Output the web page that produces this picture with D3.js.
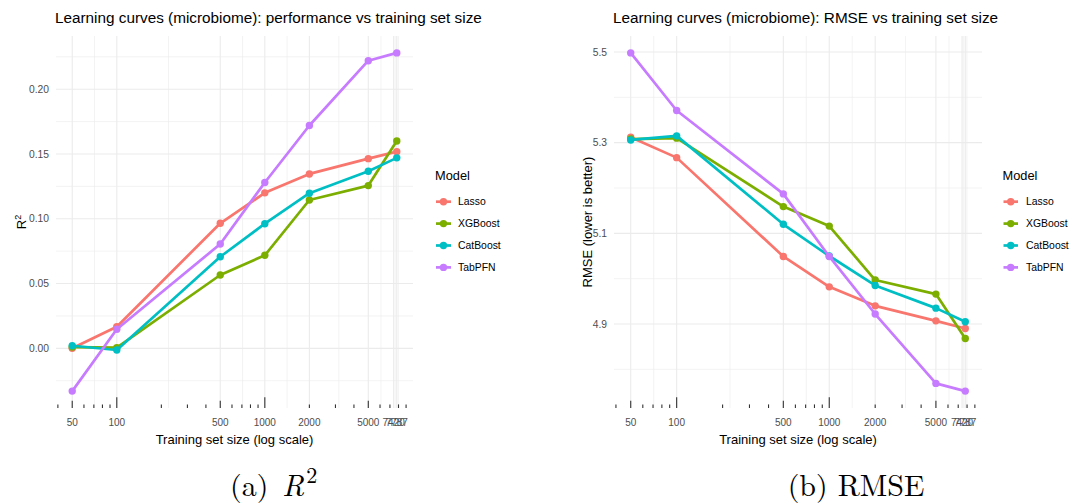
<!DOCTYPE html>
<html>
<head>
<meta charset="utf-8">
<script src="https://cdn.jsdelivr.net/npm/d3@7"></script>
<style>
  html, body { margin: 0; padding: 0; background: #ffffff; }
  svg { display: block; }
</style>
</head>
<body>
<svg id="chart" width="1076" height="504"></svg>
<script>
// ---------------- data ----------------
const models = ["Lasso", "XGBoost", "CatBoost", "TabPFN"];
const modelColors = ["#F8766D", "#7CAE00", "#00BFC4", "#C77CFF"];
const trainSizes = [50, 100, 500, 1000, 2000, 5000, 7787];
const xBreaks = [50, 100, 500, 1000, 2000, 5000, 7420, 7787];
const xBreakLabels = ["50", "100", "500", "1000", "2000", "5000", "7420", "7787"];

const r2Lasso    = [0.000, 0.0167, 0.0965, 0.1200, 0.1346, 0.1464, 0.1518];
const r2XGBoost  = [0.001, 0.0005, 0.0566, 0.0718, 0.1145, 0.1256, 0.1600];
const r2CatBoost = [0.002, -0.0013, 0.0707, 0.0962, 0.1197, 0.1367, 0.1470];
const r2TabPFN   = [-0.033, 0.0147, 0.0805, 0.1280, 0.1720, 0.2220, 0.2280];
const r2Ticks = [0.00, 0.05, 0.10, 0.15, 0.20];
const r2TickLabels = ["0.00", "0.05", "0.10", "0.15", "0.20"];

const rmseLasso    = [5.312, 5.267, 5.049, 4.982, 4.940, 4.907, 4.890];
const rmseXGBoost  = [5.308, 5.310, 5.159, 5.116, 4.997, 4.966, 4.868];
const rmseCatBoost = [5.306, 5.315, 5.120, 5.050, 4.985, 4.935, 4.905];
const rmseTabPFN   = [5.498, 5.371, 5.187, 5.049, 4.922, 4.769, 4.752];
const rmseTicks = [4.9, 5.1, 5.3, 5.5];
const rmseTickLabels = ["4.9", "5.1", "5.3", "5.5"];

const titleR2 = "Learning curves (microbiome): performance vs training set size";
const titleRMSE = "Learning curves (microbiome): RMSE vs training set size";
const xTitle = "Training set size (log scale)";
const yTitleRMSE = "RMSE (lower is better)";
const legendTitle = "Model";

// ---------------- drawing ----------------
const svg = d3.select("#chart");
const SANS = "'Liberation Sans', Arial, Helvetica, sans-serif";
const GRID = "#EBEBEB";

function expandLog(vals) {
  const l0 = Math.log10(d3.min(vals)), l1 = Math.log10(d3.max(vals));
  const p = 0.05 * (l1 - l0);
  return [Math.pow(10, l0 - p), Math.pow(10, l1 + p)];
}
function expandLin(vals) {
  const a = d3.min(vals), b = d3.max(vals);
  const p = 0.05 * (b - a);
  return [a - p, b + p];
}

function drawPanel(cfg) {
  const g = svg.append("g");
  const series = [cfg.s0, cfg.s1, cfg.s2, cfg.s3];
  const x = d3.scaleLog().domain(expandLog(trainSizes)).range([cfg.left, cfg.right]);
  const y = d3.scaleLinear().domain(expandLin(series.flat())).range([cfg.bottom, cfg.top]);

  // minor gridlines (vertical): midpoints in log space
  const lb = xBreaks.map(v => Math.log10(v));
  const xMinor = [];
  xMinor.push(lb[0] - (lb[1] - lb[0]) / 2);
  for (let i = 0; i < lb.length - 1; i++) xMinor.push((lb[i] + lb[i + 1]) / 2);
  xMinor.push(lb[lb.length - 1] + (lb[lb.length - 1] - lb[lb.length - 2]) / 2);
  const [xd0, xd1] = x.domain();
  g.selectAll(".vminor").data(xMinor.map(v => Math.pow(10, v)).filter(v => v >= xd0 && v <= xd1))
    .join("line")
    .attr("x1", d => x(d)).attr("x2", d => x(d))
    .attr("y1", cfg.top).attr("y2", cfg.bottom)
    .attr("stroke", GRID).attr("stroke-width", 0.6);

  // minor horizontal
  const step = cfg.yTicks[1] - cfg.yTicks[0];
  const yMinor = [cfg.yTicks[0] - step / 2].concat(cfg.yTicks.map(t => t + step / 2));
  const [yd0, yd1] = y.domain();
  g.selectAll(".hminor").data(yMinor.filter(v => v >= yd0 && v <= yd1))
    .join("line")
    .attr("x1", cfg.left).attr("x2", cfg.right)
    .attr("y1", d => y(d)).attr("y2", d => y(d))
    .attr("stroke", GRID).attr("stroke-width", 0.6);

  // major grid
  g.selectAll(".vmajor").data(xBreaks).join("line")
    .attr("x1", d => x(d)).attr("x2", d => x(d))
    .attr("y1", cfg.top).attr("y2", cfg.bottom)
    .attr("stroke", GRID).attr("stroke-width", 1.1);
  g.selectAll(".hmajor").data(cfg.yTicks).join("line")
    .attr("x1", cfg.left).attr("x2", cfg.right)
    .attr("y1", d => y(d)).attr("y2", d => y(d))
    .attr("stroke", GRID).attr("stroke-width", 1.1);

  // log ticks (annotation_logticks style) at the bottom of the panel
  const logTicks = [];
  for (let e = 1; e <= 4; e++) {
    for (let m = 1; m <= 9; m++) {
      const v = m * Math.pow(10, e);
      if (v >= xd0 && v <= xd1 * 0.98) logTicks.push({ v, len: m === 1 ? 10.8 : (m === 5 ? 7.2 : 3.6) });
    }
  }
  g.selectAll(".lt").data(logTicks).join("line")
    .attr("x1", d => x(d.v)).attr("x2", d => x(d.v))
    .attr("y1", cfg.bottom).attr("y2", d => cfg.bottom - d.len)
    .attr("stroke", "#333333").attr("stroke-width", 1.1);

  // x tick labels
  g.selectAll(".xl").data(xBreaks).join("text")
    .attr("x", d => x(d)).attr("y", 425.5)
    .attr("text-anchor", "middle")
    .attr("font-family", SANS).attr("font-size", 10)
    .attr("fill", "#4D4D4D")
    .text((d, i) => xBreakLabels[i]);

  // y tick labels
  g.selectAll(".yl").data(cfg.yTicks).join("text")
    .attr("x", cfg.left - 7).attr("y", d => y(d)).attr("dy", "0.35em")
    .attr("text-anchor", "end")
    .attr("font-family", SANS).attr("font-size", 10.3)
    .attr("fill", "#4D4D4D")
    .text((d, i) => cfg.yTickLabels[i]);

  // lines + points
  const line = d3.line().x((d, i) => x(trainSizes[i])).y(d => y(d));
  series.forEach((s, k) => {
    g.append("path").datum(s)
      .attr("d", line).attr("fill", "none")
      .attr("stroke", modelColors[k]).attr("stroke-width", 2.7)
      .attr("stroke-linejoin", "round").attr("stroke-linecap", "butt");
    g.selectAll(null).data(s).join("circle")
      .attr("cx", (d, i) => x(trainSizes[i])).attr("cy", d => y(d))
      .attr("r", 3.7).attr("fill", modelColors[k]);
  });

  // title
  g.append("text").attr("x", cfg.left - 1).attr("y", 23)
    .attr("font-family", SANS).attr("font-size", 15.3).attr("fill", "#000")
    .text(cfg.title);

  // x title
  g.append("text").attr("x", (cfg.left + cfg.right) / 2).attr("y", 444)
    .attr("text-anchor", "middle")
    .attr("font-family", SANS).attr("font-size", 13).attr("fill", "#000")
    .text(xTitle);

  // y title
  const yt = g.append("text")
    .attr("transform", `translate(${cfg.yTitleX},${(cfg.top + cfg.bottom) / 2}) rotate(-90)`)
    .attr("text-anchor", "middle")
    .attr("font-family", SANS).attr("font-size", 13).attr("fill", "#000");
  if (cfg.yTitleSup) {
    yt.append("tspan").text(cfg.yTitle);
    yt.append("tspan").attr("font-size", 9).attr("dy", "-0.55em").text(cfg.yTitleSup);
  } else {
    yt.text(cfg.yTitle);
  }

  // legend
  const lg = g.append("g");
  lg.append("text").attr("x", cfg.legX).attr("y", 179.5)
    .attr("font-family", SANS).attr("font-size", 12.8).attr("fill", "#000")
    .text(legendTitle);
  models.forEach((m, k) => {
    const cy = 201.7 + k * 21.9;
    lg.append("line").attr("x1", cfg.keyX0).attr("x2", cfg.keyX1)
      .attr("y1", cy).attr("y2", cy)
      .attr("stroke", modelColors[k]).attr("stroke-width", 2.7);
    lg.append("circle").attr("cx", (cfg.keyX0 + cfg.keyX1) / 2).attr("cy", cy)
      .attr("r", 3.7).attr("fill", modelColors[k]);
    lg.append("text").attr("x", cfg.labX).attr("y", cy).attr("dy", "0.35em")
      .attr("font-family", SANS).attr("font-size", 10.4).attr("fill", "#000")
      .text(m);
  });
}

drawPanel({
  left: 56, right: 413, top: 36, bottom: 408,
  s0: r2Lasso, s1: r2XGBoost, s2: r2CatBoost, s3: r2TabPFN,
  yTicks: r2Ticks, yTickLabels: r2TickLabels,
  title: titleR2, yTitle: "R", yTitleSup: "2", yTitleX: 25.5,
  legX: 435, keyX0: 436, keyX1: 451, labX: 458
});
drawPanel({
  left: 614, right: 982, top: 36, bottom: 408,
  s0: rmseLasso, s1: rmseXGBoost, s2: rmseCatBoost, s3: rmseTabPFN,
  yTicks: rmseTicks, yTickLabels: rmseTickLabels,
  title: titleRMSE, yTitle: yTitleRMSE, yTitleSup: null, yTitleX: 591.5,
  legX: 1002.5, keyX0: 1003.5, keyX1: 1018, labX: 1026
});

// sub-captions
const SERIF = "'Latin Modern Roman', 'CMU Serif', 'Liberation Serif', 'DejaVu Serif', serif";
const capA = svg.append("text").attr("x", 230).attr("y", 496)
  .attr("text-anchor", "start").attr("font-family", SERIF).attr("font-size", 30).attr("fill", "#000");
capA.append("tspan").text("(a)");
capA.append("tspan").attr("dx", 14).attr("font-style", "italic").text("R");
capA.append("tspan").attr("dx", 2).attr("font-size", 22).attr("dy", "-0.6em").text("2");

svg.append("text").attr("x", 856).attr("y", 496)
  .attr("text-anchor", "middle").attr("font-family", SERIF).attr("font-size", 30).attr("fill", "#000")
  .text("(b) RMSE");
</script>
</body>
</html>
